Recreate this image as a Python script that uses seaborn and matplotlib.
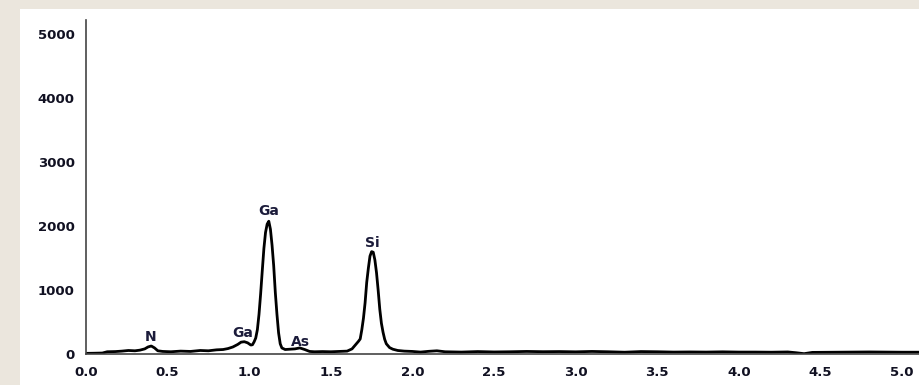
import matplotlib
matplotlib.use("Agg")
import matplotlib.pyplot as plt
import seaborn as sns
import pandas as pd

# EDS spectrum, values
energia = [0.00, 0.05, 0.10, 0.13, 0.18, 0.22, 0.26, 0.30, 0.33, 0.36, 0.38,
           0.40, 0.42, 0.44, 0.47, 0.52, 0.58, 0.64, 0.70, 0.75, 0.80, 0.84,
           0.87, 0.90, 0.93, 0.95, 0.97, 0.99, 1.01, 1.02, 1.03, 1.04, 1.05,
           1.06, 1.07, 1.08, 1.09, 1.10, 1.11, 1.12, 1.13, 1.14, 1.15, 1.16,
           1.17, 1.18, 1.19, 1.20, 1.22, 1.25, 1.28, 1.31, 1.34, 1.37, 1.40,
           1.45, 1.50, 1.55, 1.60, 1.63, 1.65, 1.67, 1.68, 1.69, 1.70, 1.71,
           1.72, 1.73, 1.74, 1.75, 1.76, 1.77, 1.78, 1.79, 1.80, 1.81, 1.82,
           1.83, 1.84, 1.86, 1.88, 1.91, 1.95, 2.00, 2.05, 2.10, 2.15, 2.20,
           2.30, 2.40, 2.50, 2.60, 2.70, 2.80, 2.90, 3.00, 3.10, 3.20, 3.30,
           3.40, 3.50, 3.60, 3.70, 3.80, 3.90, 4.00, 4.10, 4.20, 4.30, 4.35,
           4.40, 4.45, 4.60, 4.80, 5.00, 5.11]
cuentas = [10, 12, 15, 35, 38, 45, 55, 50, 60, 80, 110,
           125, 95, 50, 40, 35, 45, 40, 55, 50, 65, 70,
           85, 110, 150, 185, 192, 175, 140, 145, 190, 250, 380,
           620, 940, 1300, 1650, 1900, 2030, 2075, 1950, 1700, 1380, 960,
           620, 330, 160, 95, 70, 75, 80, 95, 70, 40, 35,
           38, 35, 40, 45, 80, 140, 200, 235, 380, 560, 800,
           1120, 1340, 1530, 1600, 1590, 1470, 1270, 1000, 700, 480, 340,
           230, 160, 100, 75, 55, 45, 40, 30, 42, 50, 35,
           30, 38, 32, 35, 40, 36, 38, 34, 40, 35, 28,
           38, 35, 30, 32, 30, 34, 30, 30, 28, 32, 20,
           5, 25, 28, 32, 28, 28]

# peak labels
etiquetas = ['N', 'Ga', 'Ga', 'As', 'Si']
etiqueta_e = [0.395, 0.958, 1.118, 1.313, 1.752]
etiqueta_c = [270, 330, 2235, 190, 1735]

xticks = [0.0, 0.5, 1.0, 1.5, 2.0, 2.5, 3.0, 3.5, 4.0, 4.5, 5.0]
yticks = [0, 1000, 2000, 3000, 4000, 5000]

df = pd.DataFrame({'Energia': energia, 'Cuentas': cuentas})

sns.set_theme(style="white")
plt.rcParams['font.family'] = ['DejaVu Sans']

fig = plt.figure(figsize=(9.2, 3.85), dpi=100)
fig.patch.set_facecolor('#ebe6dd')

# white panel behind the chart
fondo = fig.add_axes([20 / 920, 0, 900 / 920, 376 / 385], zorder=0)
fondo.set_facecolor('white')
fondo.set_xticks([])
fondo.set_yticks([])
for s in fondo.spines.values():
    s.set_visible(False)

ax = fig.add_axes([86 / 920, 1 - 354 / 385, 1 - 86 / 920, 334 / 385], zorder=1)
ax.set_facecolor('none')

sns.lineplot(x='Energia', y='Cuentas', data=df, color='black', lw=2, ax=ax)

for t, e, c in zip(etiquetas, etiqueta_e, etiqueta_c):
    ax.text(e, c, t, ha='center', va='center', fontsize=10,
            fontweight='bold', color='#1b1b3a')

ax.set_xlim(0, 5.11)
ax.set_ylim(0, 5220)
ax.set_xticks(xticks)
ax.set_xticklabels([f'{v:.1f}' for v in xticks])
ax.set_yticks(yticks)
ax.set_yticklabels([str(v) for v in yticks])
ax.set_xlabel('')
ax.set_ylabel('')

for s in ['top', 'right']:
    ax.spines[s].set_visible(False)
for s in ['left', 'bottom']:
    ax.spines[s].set_color('#444444')
    ax.spines[s].set_linewidth(1.2)

ax.tick_params(axis='both', direction='out', length=6, width=1.2,
               color='#444444', labelsize=9.5, labelcolor='#111122', pad=2)
ax.tick_params(axis='x', pad=3)
for lbl in ax.get_xticklabels() + ax.get_yticklabels():
    lbl.set_fontweight('bold')

fig.savefig('out.png', dpi=100, facecolor=fig.get_facecolor())
